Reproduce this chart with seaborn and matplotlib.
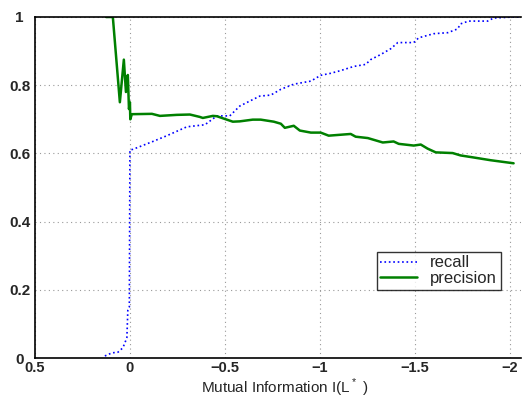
import matplotlib
matplotlib.use("Agg")
import matplotlib.pyplot as plt
import seaborn as sns
import pandas as pd

recall_x = [0.132, 0.095, 0.063, 0.037, 0.026, 0.016, 0.011, 0.003, 0.0, -0.016, -0.121, -0.195,
            -0.300, -0.395, -0.458, -0.526, -0.579, -0.684, -0.742, -0.795, -0.863, -0.953, -1.005,
            -1.058, -1.111, -1.179, -1.242, -1.268, -1.321, -1.374, -1.411, -1.495, -1.521, -1.600,
            -1.674, -1.726, -1.742, -1.784, -1.884, -1.916, -2.021, -2.06]
recall_y = [0.006, 0.015, 0.017, 0.030, 0.045, 0.060, 0.140, 0.150, 0.610, 0.612, 0.635, 0.652,
            0.678, 0.684, 0.710, 0.710, 0.739, 0.768, 0.771, 0.788, 0.803, 0.812, 0.829,
            0.835, 0.843, 0.855, 0.861, 0.875, 0.890, 0.907, 0.925, 0.925, 0.939, 0.951,
            0.954, 0.965, 0.980, 0.988, 0.988, 0.997, 1.000, 1.000]

precision_x = [0.126, 0.09, 0.053, 0.032, 0.021, 0.011, 0.005, 0.0, -0.002, -0.01, -0.116, -0.158,
               -0.247, -0.316, -0.368, -0.384, -0.437, -0.458, -0.542, -0.579, -0.647, -0.689,
               -0.758, -0.795, -0.816, -0.863, -0.895, -0.953, -1.005, -1.047, -1.163, -1.189,
               -1.253, -1.332, -1.389, -1.416, -1.495, -1.532, -1.568, -1.611, -1.700, -1.742,
               -1.811, -1.900, -2.021]
precision_y = [1.0, 1.0, 0.75, 0.875, 0.78, 0.83, 0.73, 0.75, 0.70, 0.715, 0.716, 0.710,
               0.713, 0.714, 0.707, 0.704, 0.710, 0.709, 0.693, 0.694, 0.699, 0.699,
               0.693, 0.687, 0.675, 0.681, 0.667, 0.661, 0.661, 0.652, 0.657, 0.649,
               0.645, 0.632, 0.635, 0.628, 0.623, 0.626, 0.614, 0.603, 0.601, 0.594,
               0.588, 0.580, 0.571]

xticks = [0.5, 0, -0.5, -1, -1.5, -2]
xtick_labels = ["0.5", "0", "\u22120.5", "\u22121", "\u22121.5", "\u22122"]
yticks = [0, 0.2, 0.4, 0.6, 0.8, 1]
ytick_labels = ["0", "0.2", "0.4", "0.6", "0.8", "1"]

sns.set_style("white")
plt.rcParams["font.family"] = ["Liberation Sans", "DejaVu Sans"]
plt.rcParams["mathtext.fontset"] = "custom"
plt.rcParams["mathtext.rm"] = "Liberation Sans"

fig = plt.figure(figsize=(5.22, 4.0), dpi=100)
ax = fig.add_axes([35 / 522, 42 / 400, (521 - 35) / 522, (358 - 17) / 400])

rec = pd.DataFrame({"x": recall_x, "y": recall_y})
pre = pd.DataFrame({"x": precision_x, "y": precision_y})

sns.lineplot(data=rec, x="x", y="y", sort=False, estimator=None, ax=ax,
             color="#0000ff", linestyle=":", linewidth=1.2, label="recall")
sns.lineplot(data=pre, x="x", y="y", sort=False, estimator=None, ax=ax,
             color="#008000", linestyle="-", linewidth=1.8, label="precision")

ax.set_xlim(0.5, -2.06)
ax.set_ylim(0, 1)
ax.set_xticks(xticks)
ax.set_xticklabels(xtick_labels, fontweight="bold", fontsize=10.5)
ax.set_yticks(yticks)
ax.set_yticklabels(ytick_labels, fontweight="bold", fontsize=11)
for lab in ax.get_yticklabels():
    lab.set_horizontalalignment("center")
ax.grid(True, linestyle=(0, (1, 3)), color="#999999", linewidth=0.8)
ax.tick_params(direction="in", length=3, width=0.8, color="black")
ax.tick_params(axis="x", pad=2.5)
ax.tick_params(axis="y", pad=11)
for s in ax.spines.values():
    s.set_color("black")
    s.set_linewidth(1.2)
ax.spines["right"].set_visible(False)

ax.set_xlabel("Mutual Information I(L$^*$ )", fontsize=11, va="top")
ax.xaxis.set_label_coords((285 - 35) / 486, (358 - 376.5) / 341)
ax.set_ylabel("")

leg = ax.legend(loc="upper left", bbox_to_anchor=(342 / 486, (358 - 252) / 341),
                frameon=True, fancybox=False, fontsize=12, handlelength=2.2,
                borderpad=0.2, labelspacing=0.05, handletextpad=0.8, borderaxespad=0)
leg.get_frame().set_edgecolor("black")
leg.get_frame().set_linewidth(1.0)

fig.savefig("out.png", dpi=100)
